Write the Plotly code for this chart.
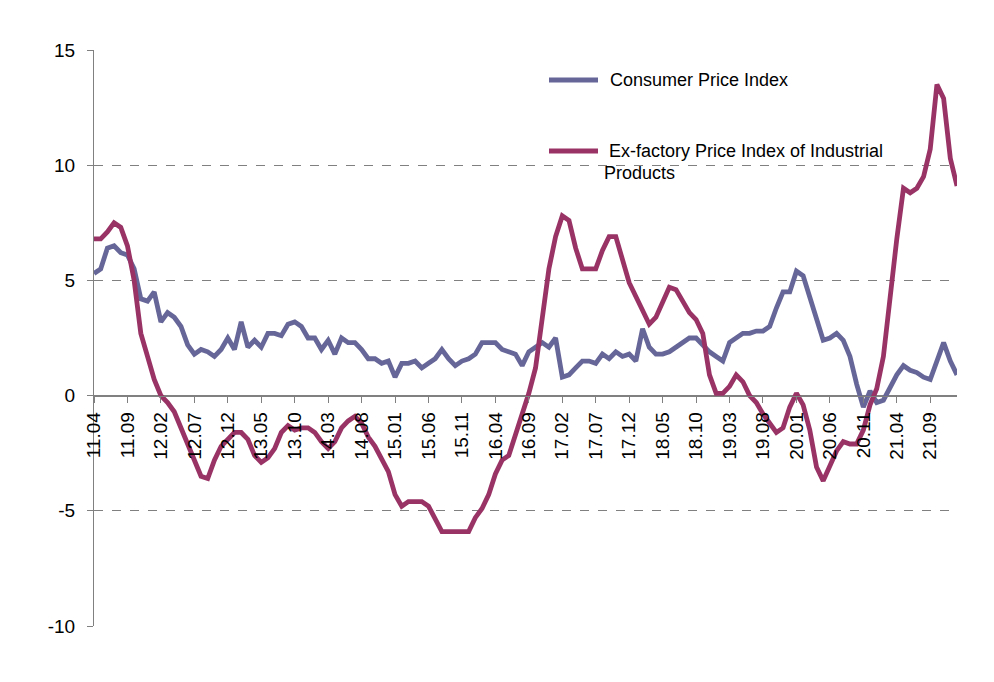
import plotly.graph_objects as go

# Monthly labels Apr 2011 .. Jan 2022
months = [f"{y % 100:02d}.{m:02d}" for y in range(2011, 2023) for m in range(1, 13)
          if (y, m) >= (2011, 4) and (y, m) <= (2022, 1)]

cpi = [5.3, 5.5, 6.4, 6.5, 6.2, 6.1, 5.5, 4.2, 4.1,
       4.5, 3.2, 3.6, 3.4, 3.0, 2.2, 1.8, 2.0, 1.9, 1.7, 2.0, 2.5,
       2.0, 3.2, 2.1, 2.4, 2.1, 2.7, 2.7, 2.6, 3.1, 3.2, 3.0, 2.5,
       2.5, 2.0, 2.4, 1.8, 2.5, 2.3, 2.3, 2.0, 1.6, 1.6, 1.4, 1.5,
       0.8, 1.4, 1.4, 1.5, 1.2, 1.4, 1.6, 2.0, 1.6, 1.3, 1.5, 1.6,
       1.8, 2.3, 2.3, 2.3, 2.0, 1.9, 1.8, 1.3, 1.9, 2.1, 2.3, 2.1,
       2.5, 0.8, 0.9, 1.2, 1.5, 1.5, 1.4, 1.8, 1.6, 1.9, 1.7, 1.8,
       1.5, 2.9, 2.1, 1.8, 1.8, 1.9, 2.1, 2.3, 2.5, 2.5, 2.2, 1.9,
       1.7, 1.5, 2.3, 2.5, 2.7, 2.7, 2.8, 2.8, 3.0, 3.8, 4.5, 4.5,
       5.4, 5.2, 4.3, 3.3, 2.4, 2.5, 2.7, 2.4, 1.7, 0.5, -0.5, 0.2,
       -0.3, -0.2, 0.4, 0.9, 1.3, 1.1, 1.0, 0.8, 0.7, 1.5, 2.3, 1.5,
       0.9]

ppi = [6.8, 6.8, 7.1, 7.5, 7.3, 6.5, 5.0, 2.7, 1.7,
       0.7, 0.0, -0.3, -0.7, -1.4, -2.1, -2.9, -3.5, -3.6, -2.8, -2.2, -1.9,
       -1.6, -1.6, -1.9, -2.6, -2.9, -2.7, -2.3, -1.6, -1.3, -1.5, -1.4, -1.4,
       -1.6, -2.0, -2.3, -2.0, -1.4, -1.1, -0.9, -1.2, -1.8, -2.2, -2.7, -3.3,
       -4.3, -4.8, -4.6, -4.6, -4.6, -4.8, -5.4, -5.9, -5.9, -5.9, -5.9, -5.9,
       -5.3, -4.9, -4.3, -3.4, -2.8, -2.6, -1.7, -0.8, 0.1, 1.2, 3.3, 5.5,
       6.9, 7.8, 7.6, 6.4, 5.5, 5.5, 5.5, 6.3, 6.9, 6.9, 5.8, 4.9,
       4.3, 3.7, 3.1, 3.4, 4.1, 4.7, 4.6, 4.1, 3.6, 3.3, 2.7, 0.9,
       0.1, 0.1, 0.4, 0.9, 0.6, 0.0, -0.3, -0.8, -1.2, -1.6, -1.4, -0.5,
       0.1, -0.4, -1.5, -3.1, -3.7, -3.0, -2.4, -2.0, -2.1, -2.1, -1.5, -0.4,
       0.3, 1.7, 4.4, 6.8, 9.0, 8.8, 9.0, 9.5, 10.7, 13.5, 12.9, 10.3,
       9.1]

tick_labels = ["11.04", "11.09", "12.02", "12.07", "12.12", "13.05", "13.10",
               "14.03", "14.08", "15.01", "15.06", "15.11", "16.04", "16.09",
               "17.02", "17.07", "17.12", "18.05", "18.10", "19.03", "19.08",
               "20.01", "20.06", "20.11", "21.04", "21.09"]

y_ticks = [-10, -5, 0, 5, 10, 15]
y_tick_text = ["-10", "-5", "0", "5", "10", "15"]

series_names = ["Consumer Price Index", "Ex-factory Price Index of Industrial Products"]
colors = ["#666699", "#993366"]

FONT = "Liberation Sans, Arial, sans-serif"
W, H = 994, 682
L, R, T, B = 94, 37, 50, 56

fig = go.Figure()
for name, vals, col in zip(series_names, [cpi, ppi], colors):
    fig.add_trace(go.Scatter(x=months, y=vals, mode="lines", name=name,
                             line=dict(color=col, width=4.8), showlegend=False))

fig.update_layout(
    width=W, height=H,
    margin=dict(l=L, r=R, t=T, b=B, pad=0),
    paper_bgcolor="white", plot_bgcolor="white",
    font=dict(family=FONT, size=18, color="#000000"),
)

fig.update_xaxes(
    type="category", categoryorder="array", categoryarray=months,
    range=[0, len(months) - 1],
    tickmode="array", tickvals=tick_labels, ticktext=tick_labels,
    tickangle=-90, ticks="outside", ticklen=6, tickcolor="#808080", tickwidth=1,
    showline=True, linecolor="#808080", linewidth=1,
    showgrid=False, zeroline=False,
    anchor="free", position=0.4,
    tickfont=dict(family=FONT, size=19, color="#000000"),
    ticklabelstandoff=2,
)

fig.update_yaxes(
    range=[-10, 15], tickmode="array", tickvals=y_ticks, ticktext=y_tick_text,
    ticks="outside", ticklen=6, tickcolor="#808080", tickwidth=1,
    showline=True, linecolor="#808080", linewidth=1,
    showgrid=True, gridcolor="#808080", gridwidth=1, griddash="dash",
    zeroline=True, zerolinecolor="#808080", zerolinewidth=1,
    tickfont=dict(family=FONT, size=19, color="#000000"),
    ticklabelstandoff=8,
)

pw, ph = W - L - R, H - T - B
def px(xp):
    return (xp - L) / pw
def py(yp):
    return (H - B - yp) / ph

# Custom legend
legend_rows = [(80, [(608, 80, series_names[0])]),
               (151, [(607, 151, "Ex-factory Price Index of Industrial"), (602, 173, "Products")])]
for (ly, texts), col in zip(legend_rows, colors):
    fig.add_shape(type="line", xref="paper", yref="paper",
                  x0=px(549), x1=px(598), y0=py(ly), y1=py(ly),
                  line=dict(color=col, width=5))
    for tx, ty, txt in texts:
        fig.add_annotation(xref="paper", yref="paper", x=px(tx), y=py(ty),
                           text=txt, showarrow=False, xanchor="left", yanchor="middle",
                           font=dict(family=FONT, size=18, color="#000000"))

fig.write_html("out.html")
